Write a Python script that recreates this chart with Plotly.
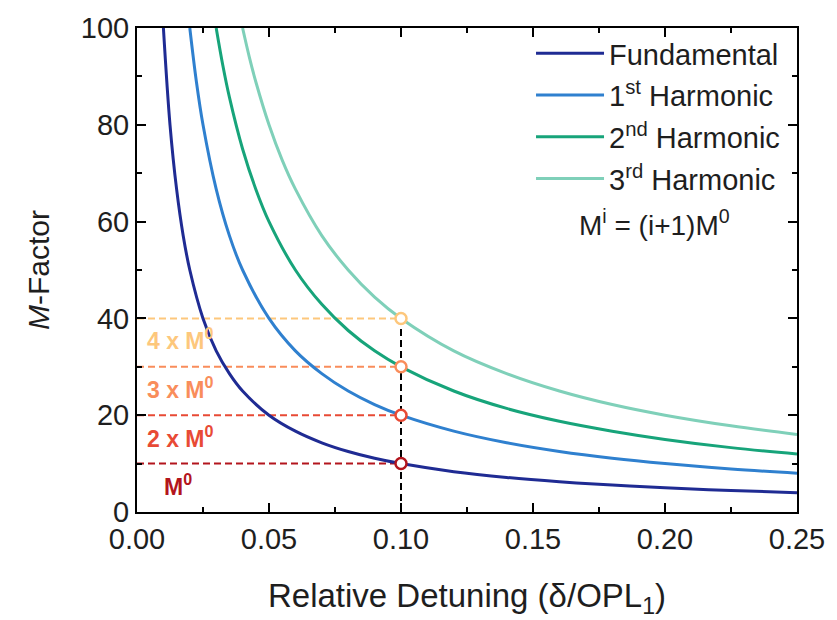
import plotly.graph_objects as go

# Relative detuning samples and M-factor values for each order
det_fund = [0.010, 0.0125, 0.015, 0.0175, 0.020, 0.025, 0.030, 0.035, 0.040, 0.050,
            0.060, 0.070, 0.080, 0.090, 0.100, 0.120, 0.140, 0.160, 0.180, 0.200,
            0.225, 0.250]
m_fund = [100, 80, 66.7, 57.1, 50, 40, 33.3, 28.6, 25, 20,
          16.7, 14.3, 12.5, 11.1, 10, 8.33, 7.14, 6.25, 5.56, 5.0,
          4.44, 4.0]

det_h1 = [0.020, 0.0225, 0.025, 0.030, 0.035, 0.040, 0.050, 0.060, 0.070, 0.080,
          0.090, 0.100, 0.120, 0.140, 0.160, 0.180, 0.200, 0.225, 0.250]
m_h1 = [100, 88.9, 80, 66.7, 57.1, 50, 40, 33.3, 28.6, 25,
        22.2, 20, 16.7, 14.3, 12.5, 11.1, 10, 8.89, 8.0]

det_h2 = [0.030, 0.0325, 0.035, 0.040, 0.045, 0.050, 0.060, 0.070, 0.080, 0.090,
          0.100, 0.120, 0.140, 0.160, 0.180, 0.200, 0.225, 0.250]
m_h2 = [100, 92.3, 85.7, 75, 66.7, 60, 50, 42.9, 37.5, 33.3,
        30, 25, 21.4, 18.75, 16.7, 15, 13.3, 12.0]

det_h3 = [0.040, 0.0425, 0.045, 0.050, 0.055, 0.060, 0.070, 0.080, 0.090, 0.100,
          0.120, 0.140, 0.160, 0.180, 0.200, 0.225, 0.250]
m_h3 = [100, 94.1, 88.9, 80, 72.7, 66.7, 57.1, 50, 44.4, 40,
        33.3, 28.6, 25, 22.2, 20, 17.8, 16.0]

series_names = ["Fundamental", "1<sup>st</sup> Harmonic",
                "2<sup>nd</sup> Harmonic", "3<sup>rd</sup> Harmonic"]
series_colors = ["#1f2b93", "#2f80cf", "#17a47a", "#7fd0b9"]

# Marked values at the reference detuning
ref_detuning = 0.10
marked_m = [10, 20, 30, 40]
marked_labels = ["M<sup>0</sup>", "2 x M<sup>0</sup>", "3 x M<sup>0</sup>", "4 x M<sup>0</sup>"]
marked_colors = ["#b3151d", "#e84a35", "#f98d5b", "#fdc77c"]

x_ticks = [0.00, 0.05, 0.10, 0.15, 0.20, 0.25]
y_ticks = [0, 20, 40, 60, 80, 100]

FONT = "Liberation Sans, Arial, sans-serif"
TEXT = "#1e1e1e"

fig = go.Figure()

# Guide lines from the y axis to each marked point
for m, c in zip(marked_m, marked_colors):
    fig.add_trace(go.Scatter(
        x=[0, ref_detuning], y=[m, m], mode="lines",
        line=dict(color=c, width=2, dash="7px,4px"),
        showlegend=False, hoverinfo="skip", cliponaxis=False))

# Vertical guide at the reference detuning
fig.add_trace(go.Scatter(
    x=[ref_detuning, ref_detuning], y=[0, max(marked_m)], mode="lines",
    line=dict(color="black", width=2, dash="7px,4px"),
    showlegend=False, hoverinfo="skip"))

for k, (xs, ys, name, col) in enumerate(zip([det_fund, det_h1, det_h2, det_h3],
                                            [m_fund, m_h1, m_h2, m_h3],
                                            series_names, series_colors)):
    fig.add_trace(go.Scatter(
        x=xs, y=ys, mode="lines", name=name, legendgroup=f"g{k}",
        line=dict(color=col, width=3, shape="spline", smoothing=1.0)))

# Open circles at the marked values
fig.add_trace(go.Scatter(
    x=[ref_detuning] * len(marked_m), y=marked_m, mode="markers",
    marker=dict(symbol="circle", size=11, color="white",
                line=dict(color=marked_colors, width=2.5)),
    showlegend=False, hoverinfo="skip", cliponaxis=False))

label_y = [5.5, 15.6, 25.6, 35.7]
label_x = [0.0095, 0.003, 0.003, 0.003]
for lx, ly, txt, c in zip(label_x, label_y, marked_labels, marked_colors):
    fig.add_annotation(x=lx, y=ly, text="<b>" + txt + "</b>", showarrow=False,
                       xanchor="left", yanchor="middle",
                       font=dict(family=FONT, size=23, color=c))

fig.add_annotation(x=0.196, y=59.8, text="M<sup>i</sup> = (i+1)M<sup>0</sup>",
                   showarrow=False, xanchor="center", yanchor="middle",
                   font=dict(family=FONT, size=28, color=TEXT))

axis_common = dict(
    showline=True, linecolor="black", linewidth=2, mirror="ticks",
    ticks="inside", ticklen=9, tickwidth=2, tickcolor="black",
    showgrid=False, zeroline=False,
    tickfont=dict(family=FONT, size=29, color=TEXT),
)

fig.update_xaxes(
    range=[0, 0.25], tickvals=x_ticks, tickformat=".2f",
    minor=dict(dtick=0.025, ticks="inside", ticklen=5, tickwidth=2, tickcolor="black"),
    title=dict(text="Relative Detuning (δ/OPL<sub>1</sub>)",
               font=dict(family=FONT, size=33, color=TEXT), standoff=30),
    **axis_common)
fig.update_yaxes(
    range=[0, 100], tickvals=y_ticks,
    minor=dict(dtick=10, ticks="inside", ticklen=5, tickwidth=2, tickcolor="black"),
    title=dict(text="<i>M</i>-Factor",
               font=dict(family=FONT, size=30, color=TEXT), standoff=22),
    **axis_common)

fig.update_layout(
    width=837, height=620,
    margin=dict(l=137, r=34, t=25, b=108),
    plot_bgcolor="white", paper_bgcolor="white",
    legend=dict(x=0.597, y=1.0, xanchor="left", yanchor="top",
                bgcolor="rgba(0,0,0,0)", itemwidth=68,
                traceorder="grouped", tracegroupgap=1,
                font=dict(family=FONT, size=29, color=TEXT)),
)

fig.write_html("out.html")
